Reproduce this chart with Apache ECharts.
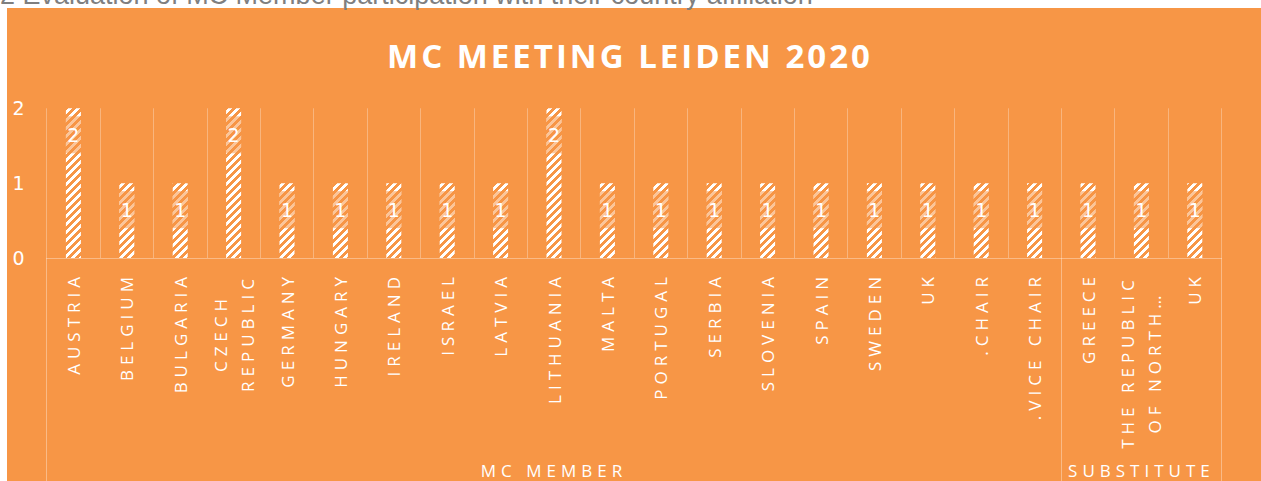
<!DOCTYPE html>
<html>
<head>
<meta charset="utf-8">
<style>
  html, body { margin: 0; padding: 0; background: #fff; }
  #chart { width: 1261px; height: 481px; }
</style>
<script src="https://cdn.jsdelivr.net/npm/echarts@6/dist/echarts.min.js"></script>
</head>
<body>
<div id="chart"></div>
<script>
var categories = ['AUSTRIA', 'BELGIUM', 'BULGARIA', 'CZECH REPUBLIC', 'GERMANY', 'HUNGARY',
  'IRELAND', 'ISRAEL', 'LATVIA', 'LITHUANIA', 'MALTA', 'PORTUGAL', 'SERBIA', 'SLOVENIA',
  'SPAIN', 'SWEDEN', 'UK', '.CHAIR', '.VICE CHAIR', 'GREECE', 'THE REPUBLIC OF NORTH…', 'UK'];
var participants = [2, 1, 1, 2, 1, 1, 1, 1, 1, 2, 1, 1, 1, 1, 1, 1, 1, 1, 1, 1, 1, 1];
var groups = ['MC MEMBER', 'SUBSTITUTE'];
var groupBounds = [0, 19, 22];
var yTicks = [0, 1, 2];
var chartTitle = 'MC MEETING LEIDEN 2020';
var caption = '2 Evaluation of MC Member participation with their country affiliation';

var orange = '#F79646';
var faint = 'rgba(255,255,255,0.35)';

// two-line axis labels, as the original wraps them
var wrapped = {
  'CZECH REPUBLIC': ['CZECH', 'REPUBLIC', 'a'],
  'THE REPUBLIC OF NORTH…': ['THE REPUBLIC', 'OF NORTH…', 'b']
};

// white "wide upward diagonal" hatch
function hatch() {
  var c = document.createElement('canvas');
  c.width = 8; c.height = 8;
  var ctx = c.getContext('2d');
  var img = ctx.createImageData(8, 8);
  for (var y = 0; y < 8; y++) {
    for (var x = 0; x < 8; x++) {
      var i = (y * 8 + x) * 4;
      var white = (x + y) % 8 < 4;
      img.data[i] = white ? 255 : 247;
      img.data[i + 1] = white ? 255 : 150;
      img.data[i + 2] = white ? 255 : 70;
      img.data[i + 3] = 255;
    }
  }
  ctx.putImageData(img, 0, 0);
  return c.toDataURL();
}

var groupCenters = groups.map(function (g, i) { return (groupBounds[i] + groupBounds[i + 1]) / 2; });

var chart = echarts.init(document.getElementById('chart'), null, { renderer: 'svg' });

var spaced = {};
categories.forEach(function (c) {
  if (wrapped[c]) { spaced[wrapped[c][0]] = 5; spaced[wrapped[c][1]] = 5; }
  else spaced[c] = 5;
});
groups.forEach(function (g) { spaced[g] = 5; });
spaced[chartTitle] = 3;

chart.on('finished', function () {
  var texts = document.querySelectorAll('#chart text');
  texts.forEach(function (t) {
    var s = spaced[t.textContent];
    if (s) t.setAttribute('letter-spacing', s + 'px');
  });
});

var labelFont = { color: '#fff', fontSize: 17, fontFamily: 'Open Sans' };

chart.setOption({
  backgroundColor: '#fff',
  animation: false,
  graphic: [
    { type: 'rect', z: -10, shape: { x: 7, y: 8, width: 1254, height: 473 }, style: { fill: orange } },
    { type: 'text', z: -5, x: 0, y: -5, style: {
      text: caption, fill: '#7f7f7f', font: '27px "Liberation Sans"', verticalAlign: 'middle' } },
    { type: 'text', x: 630, y: 55, style: {
      text: chartTitle, fill: '#fff', font: 'bold 33px "Open Sans"', align: 'center', verticalAlign: 'middle' } }
  ],
  grid: { left: 46.7, right: 39.5, top: 108.3, bottom: 223, containLabel: false },
  xAxis: [{
    type: 'category',
    data: categories,
    axisLine: { lineStyle: { color: faint } },
    axisTick: { show: false },
    splitLine: { show: true, lineStyle: { color: 'rgba(255,255,255,0.3)' } },
    axisLabel: Object.assign({
      interval: 0, rotate: 90, margin: 14,
      formatter: function (v) {
        var w = wrapped[v];
        return w ? '{' + w[2] + '|' + w[0] + '}\n{' + w[2] + '|' + w[1] + '}' : v;
      },
      rich: {
        a: Object.assign({ width: 122, align: 'center', lineHeight: 27 }, labelFont),
        b: Object.assign({ width: 180, align: 'center', lineHeight: 27 }, labelFont)
      }
    }, labelFont)
  }, {
    type: 'value',
    position: 'bottom',
    min: groupBounds[0], max: groupBounds[groupBounds.length - 1],
    axisLine: { show: false },
    splitLine: { show: false },
    axisTick: { show: true, customValues: groupBounds, length: 223, lineStyle: { color: faint } },
    axisLabel: {
      customValues: groupCenters, margin: 204, color: '#fff', fontSize: 17, fontFamily: 'Open Sans',
      formatter: function (v) { return groups[groupCenters.indexOf(v)] || ''; }
    }
  }],
  yAxis: {
    type: 'value', min: yTicks[0], max: yTicks[yTicks.length - 1], interval: 1,
    axisLine: { show: false }, axisTick: { show: false }, splitLine: { show: false },
    axisLabel: { margin: 22, color: '#fff', fontSize: 19, fontFamily: 'DejaVu Sans' }
  },
  series: [{
    type: 'bar',
    data: participants,
    barWidth: 15,
    itemStyle: { color: { image: hatch(), repeat: 'repeat' } },
    label: {
      show: true, position: 'insideTop', distance: 8,
      width: 15, lineHeight: 37, align: 'center',
      backgroundColor: 'rgba(247,150,70,0.55)',
      color: '#fff', fontSize: 19, fontFamily: 'DejaVu Sans'
    }
  }]
});
</script>
</body>
</html>
